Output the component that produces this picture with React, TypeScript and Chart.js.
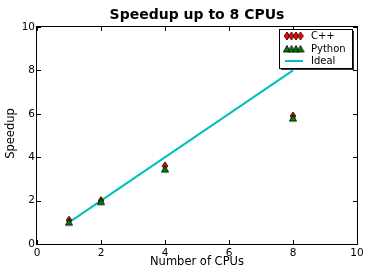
import { useEffect, useRef } from "react";
import { Chart, registerables } from "chart.js";

Chart.register(...registerables);

const cpus = [1, 2, 4, 8];
const cppSpeedup = [1.1, 2.0, 3.6, 5.9];
const pythonSpeedup = [1.0, 1.95, 3.45, 5.8];
const idealCpus = [1, 8];
const idealSpeedup = [1, 8];
const tickValues = [0, 2, 4, 6, 8, 10];
const seriesLabels = ["C++", "Python", "Ideal"];
const chartTitle = "Speedup up to 8 CPUs";
const xTitle = "Number of CPUs";
const yTitle = "Speedup";

const FONT = "'DejaVu Sans', sans-serif";
const RED = "#ff0000";
const GREEN = "#008000";
const CYAN = "#00bfbf";

function makeDiamond(): HTMLCanvasElement {
  const c = document.createElement("canvas");
  c.width = 8;
  c.height = 10;
  const g = c.getContext("2d")!;
  g.beginPath();
  g.moveTo(4, 1);
  g.lineTo(6.8, 5);
  g.lineTo(4, 9);
  g.lineTo(1.2, 5);
  g.closePath();
  g.fillStyle = RED;
  g.fill();
  g.lineWidth = 0.8;
  g.strokeStyle = "#000";
  g.stroke();
  return c;
}

function makeTriangle(): HTMLCanvasElement {
  const c = document.createElement("canvas");
  c.width = 10;
  c.height = 10;
  const g = c.getContext("2d")!;
  g.beginPath();
  g.moveTo(5, 1.5);
  g.lineTo(8.6, 8);
  g.lineTo(1.4, 8);
  g.closePath();
  g.fillStyle = GREEN;
  g.fill();
  g.lineWidth = 0.8;
  g.strokeStyle = "#000";
  g.stroke();
  return c;
}

export default function App() {
  const ref = useRef<HTMLCanvasElement | null>(null);

  useEffect(() => {
    const canvas = ref.current;
    if (!canvas) return;
    const diamond = makeDiamond();
    const triangle = makeTriangle();

    const decor = {
      id: "decor",
      afterDraw(chart: any) {
        const ctx = chart.ctx as CanvasRenderingContext2D;
        const a = chart.chartArea;
        const xs = chart.scales.x;
        const ys = chart.scales.y;
        ctx.save();
        // frame
        ctx.strokeStyle = "#000";
        ctx.lineWidth = 1;
        ctx.strokeRect(Math.round(a.left) - 0.5, Math.round(a.top) - 0.5, Math.round(a.right - a.left) + 1, Math.round(a.bottom - a.top) + 1);
        // inward ticks
        const tl = 4;
        ctx.beginPath();
        for (const v of tickValues) {
          const px = Math.round(xs.getPixelForValue(v)) + 0.5;
          ctx.moveTo(px, a.bottom);
          ctx.lineTo(px, a.bottom - tl);
          ctx.moveTo(px, a.top);
          ctx.lineTo(px, a.top + tl);
          const py = Math.round(ys.getPixelForValue(v)) + 0.5;
          ctx.moveTo(a.left, py);
          ctx.lineTo(a.left + tl, py);
          ctx.moveTo(a.right, py);
          ctx.lineTo(a.right - tl, py);
        }
        ctx.stroke();

        // title
        ctx.fillStyle = "#000";
        ctx.textAlign = "center";
        ctx.textBaseline = "alphabetic";
        ctx.font = `bold 14px ${FONT}`;
        ctx.fillText(chartTitle, (a.left + a.right) / 2, 19);
        // x title
        ctx.font = `11.5px ${FONT}`;
        ctx.textBaseline = "middle";
        ctx.fillText(xTitle, (a.left + a.right) / 2, 262.5);
        // y title
        ctx.save();
        ctx.translate(11, (a.top + a.bottom) / 2 - 2);
        ctx.rotate(-Math.PI / 2);
        ctx.fillText(yTitle, 0, 0);
        ctx.restore();

        // legend
        const lx = 279, ly = 29, lw = 73, lh = 39;
        ctx.fillStyle = "#333";
        ctx.fillRect(lx + 2, ly + 2, lw, lh);
        ctx.fillStyle = "#fff";
        ctx.fillRect(lx, ly, lw, lh);
        ctx.strokeStyle = "#000";
        ctx.strokeRect(lx + 0.5, ly + 0.5, lw, lh);
        const rows = [36, 49, 61];
        const mx = [287, 291.5, 296, 300.5];
        for (const x of mx) {
          ctx.drawImage(diamond, x - 4, rows[0] - 5);
        }
        for (const x of mx) {
          ctx.drawImage(triangle, x - 5, rows[1] - 5);
        }
        ctx.strokeStyle = CYAN;
        ctx.lineWidth = 2;
        ctx.beginPath();
        ctx.moveTo(285, rows[2]);
        ctx.lineTo(303, rows[2]);
        ctx.stroke();
        ctx.fillStyle = "#000";
        ctx.textAlign = "left";
        ctx.textBaseline = "middle";
        ctx.font = `10px ${FONT}`;
        seriesLabels.forEach((s, i) => ctx.fillText(s, 311, rows[i]));
        ctx.restore();
      },
    };

    const chart = new Chart(canvas, {
      type: "scatter",
      data: {
        datasets: [
          {
            label: seriesLabels[2],
            data: idealCpus.map((x, i) => ({ x, y: idealSpeedup[i] })),
            showLine: true,
            borderColor: CYAN,
            borderWidth: 2,
            pointRadius: 0,
            order: 3,
          },
          {
            label: seriesLabels[0],
            data: cpus.map((x, i) => ({ x, y: cppSpeedup[i] })),
            pointStyle: diamond as any,
            pointRadius: 4,
            order: 2,
          },
          {
            label: seriesLabels[1],
            data: cpus.map((x, i) => ({ x, y: pythonSpeedup[i] })),
            pointStyle: triangle as any,
            pointRadius: 4,
            order: 1,
          },
        ],
      },
      options: {
        animation: false,
        responsive: false,
        maintainAspectRatio: false,
        layout: { padding: { top: 27, right: 17, left: 0, bottom: 0 } },
        plugins: {
          legend: { display: false },
          title: { display: false },
          tooltip: { enabled: false },
        },
        scales: {
          x: {
            type: "linear",
            min: 0,
            max: 10,
            grid: { display: false, drawTicks: false },
            border: { display: false },
            ticks: {
              stepSize: 2,
              padding: 3,
              color: "#000",
              font: { family: FONT, size: 10.5 },
              maxRotation: 0,
            },
            afterFit: (s: any) => {
              s.height = 31;
            },
          },
          y: {
            type: "linear",
            min: 0,
            max: 10,
            grid: { display: false, drawTicks: false },
            border: { display: false },
            ticks: {
              stepSize: 2,
              padding: 2,
              color: "#000",
              font: { family: FONT, size: 10.5 },
            },
            afterFit: (s: any) => {
              s.width = 37;
            },
          },
        },
      },
      plugins: [decor],
    });
    return () => chart.destroy();
  }, []);

  return (
    <div style={{ position: "fixed", left: 0, top: 0, width: 374, height: 275, background: "#fff" }}>
      <canvas ref={ref} width={374} height={275} style={{ display: "block" }} />
    </div>
  );
}
